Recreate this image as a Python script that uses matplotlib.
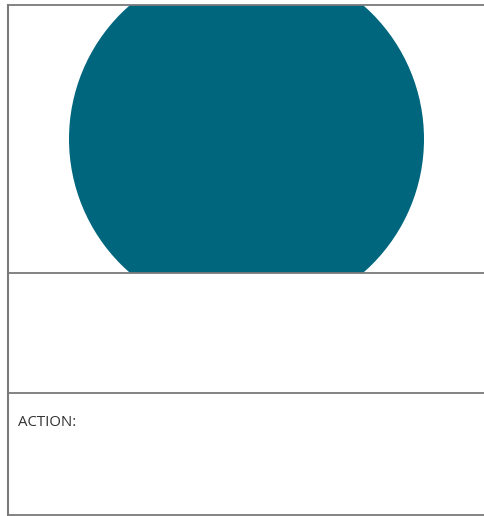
import matplotlib
matplotlib.use("Agg")
import matplotlib.pyplot as plt
from matplotlib.patches import Circle, Rectangle

# card layout (pixel coords, y downwards)
rows = [5, 273, 393, 515]   # horizontal rules of the card
labels = ["", "", "ACTION:"]
shape_color = "#00667E"
line_color = "#7a7a7a"

fig = plt.figure(figsize=(4.84, 5.16), dpi=100)
ax = fig.add_axes([0, 0, 1, 1])
ax.set_xlim(0, 484)
ax.set_ylim(516, 0)
ax.axis("off")

left, right = 7.5, 490
# outer frame
ax.plot([left, left], [rows[0], rows[-1]], color=line_color, lw=1.5)
for y in rows:
    ax.plot([left, right], [y, y], color=line_color, lw=1.3)

# circle clipped to top panel
clip = Rectangle((left, rows[0]), right - left, rows[1] - rows[0], transform=ax.transData)
c = Circle((246.5, 139), 177.5, color=shape_color, lw=0)
ax.add_patch(c)
c.set_clip_path(clip)

for i, lab in enumerate(labels):
    if lab:
        ax.text(17.5, rows[i] + 29.5, lab, fontsize=10.8, color="#333333",
                family="Open Sans", va="center", ha="left")

fig.savefig("out.png", dpi=100)
